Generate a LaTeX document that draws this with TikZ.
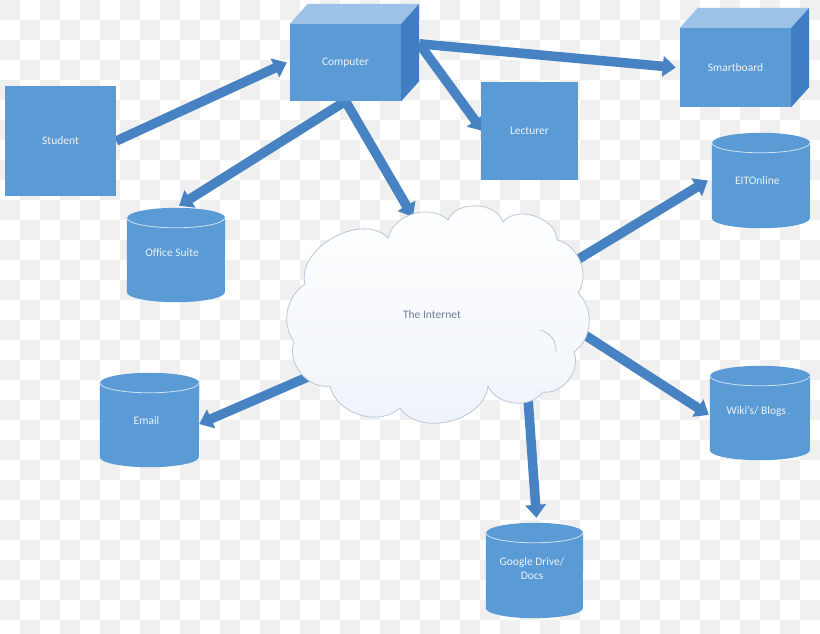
\documentclass[tikz,border=0pt]{standalone}
\usepackage{fontspec}
\setmainfont{Carlito}
\usetikzlibrary{arrows.meta,calc}
\definecolor{boxblue}{HTML}{5B9BD5}
\definecolor{topblue}{HTML}{9CC2E8}
\definecolor{sideblue}{HTML}{3F7EC2}
\definecolor{arrowblue}{HTML}{4783C3}
\definecolor{checkgrey}{HTML}{F0F0F0}
\definecolor{cloudline}{HTML}{B9C9DA}
\definecolor{cloudbottom}{HTML}{EEF3FA}
\definecolor{cloudtext}{HTML}{6B7F98}
\definecolor{labeltext}{HTML}{EAF2FA}
\pgfdeclarelayer{back}
\pgfdeclarelayer{conn}
\pgfsetlayers{back,conn,main}
\newcommand\cylshape[3]{%
  \fill[boxblue] ($(#1.north west)+(0,#3)$) -- ($(#1.south west)+(0,-#3)$)
    arc[start angle=180,end angle=0,x radius=#2,y radius=#3]
    -- ($(#1.north east)+(0,#3)$)
    arc[start angle=360,end angle=180,x radius=#2,y radius=#3] -- cycle;
  \draw[white!70!boxblue, line width=0.8pt] ($(#1.north west)+(0,#3)$)
    arc[start angle=180,end angle=0,x radius=#2,y radius=#3];
}
\begin{document}
\begin{tikzpicture}[x=1pt,y=-1pt,
  lbl/.style={text=labeltext, font=\fontsize{11.5}{14}\selectfont, align=center, inner sep=0pt},
  facebox/.style={rectangle, fill=boxblue, draw=none, inner sep=0pt, text=labeltext, font=\fontsize{11.5}{14}\selectfont},
  cylbox/.style={rectangle, draw=none, inner sep=0pt},
  conn/.style={draw=arrowblue, line width=9.5pt, -{Triangle[width=20pt,length=13pt]}}]
\useasboundingbox (0,0) rectangle (820,633);
\begin{pgfonlayer}{back}
\fill[white] (0,0) rectangle (820,633);
\foreach \i in {0,...,40}{\foreach \j in {0,...,31}{
  \pgfmathtruncatemacro\chk{mod(\i+\j,2)}
  \ifnum\chk=0 \fill[checkgrey] (\i*20,\j*20) rectangle ++(20,20); \fi
}}
\end{pgfonlayer}

% cubes
\node[facebox, minimum width=111, minimum height=77] (computer) at (345.5,62.5) {Computer};
\fill[topblue] (computer.north west) -- ++(18,-20) -- ($(computer.north east)+(18,-20)$) -- (computer.north east) -- cycle;
\fill[sideblue] (computer.north east) -- ++(18,-20) -- ($(computer.south east)+(18,-20)$) -- (computer.south east) -- cycle;
\coordinate (comp-side) at ($(computer.north east)+(18,20)$);

\node[facebox, minimum width=111, minimum height=79] (smart) at (735.5,67.5) {Smartboard};
\fill[topblue] (smart.north west) -- ++(18,-20) -- ($(smart.north east)+(18,-20)$) -- (smart.north east) -- cycle;
\fill[sideblue] (smart.north east) -- ++(18,-20) -- ($(smart.south east)+(18,-20)$) -- (smart.south east) -- cycle;

% boxes
\node[facebox, minimum width=111, minimum height=110] (student) at (60.5,141) {Student};
\node[facebox, minimum width=97, minimum height=98] (lecturer) at (529.5,131) {Lecturer};

% cylinders
\node[cylbox, minimum width=98, minimum height=95] (eit) at (761,180.5) {};
\cylshape{eit}{49}{10}
\node[lbl] (eit-t) at (759,181) {EITOnline\,{\fontsize{6}{6}\selectfont .}};

\node[cylbox, minimum width=98, minimum height=94] (office) at (176,255) {};
\cylshape{office}{49}{10}
\node[lbl] (office-t) at (172,253) {Office Suite};

\node[cylbox, minimum width=99, minimum height=94] (email) at (149.5,420) {};
\cylshape{email}{49.5}{10}
\node[lbl] (email-t) at (146.5,421) {Email};

\node[cylbox, minimum width=100, minimum height=94] (wiki) at (760,413) {};
\cylshape{wiki}{50}{10}
\node[lbl] (wiki-t) at (758,411) {Wiki’s/ Blogs\,{\fontsize{6}{6}\selectfont .}};

\node[cylbox, minimum width=97, minimum height=95] (google) at (534.5,570.5) {};
\cylshape{google}{48.5}{10}
\node[lbl] (google-t) at (532,569) {Google Drive/\\Docs};

% cloud
\path[draw=cloudline, line width=0.8pt, top color=white, bottom color=cloudbottom]
  (305,284) to[bend left=75] (388,238) to[bend left=60] (448,220)
  to[bend left=70] (503,222) to[bend left=70] (557,240)
  to[bend left=55] (578,293) to[bend left=50] (574,352)
  to[bend left=60] (543,392) to[bend left=60] (488,386)
  to[bend left=70] (400,408) to[bend left=60] (330,386)
  to[bend left=60] (294,342) to[bend left=45] (305,284) -- cycle;
\draw[cloudline, line width=0.8pt] (540,330) to[bend left=40] (556,352);
\node[text=cloudtext, font=\fontsize{11.5}{14}\selectfont, inner sep=0pt] (inet) at (432,315) {The Internet};
\coordinate (inet-top) at (413,217);
\coordinate (inet-ne) at (572,263);
\coordinate (inet-e) at (574,328);
\coordinate (inet-s) at (527,384);
\coordinate (inet-w) at (310,376);

% connectors
\begin{pgfonlayer}{conn}
\draw[conn] (student.east) -- ([xshift=-3pt]computer.west);
\draw[conn] (computer.south) -- ([shift={(3pt,2pt)}]office.north);
\draw[conn] (computer.south) -- (inet-top);
\draw[conn] (comp-side) -- ([xshift=2pt]lecturer.west);
\draw[conn] (comp-side) -- ([xshift=-4pt]smart.west);
\draw[conn] (inet-ne) -- ([xshift=-4pt]eit.west);
\draw[conn] (inet-e) -- ([xshift=-1pt,yshift=-2pt]wiki.west);
\draw[conn] (inet-s) -- ([xshift=2pt,yshift=5pt]google.north);
\draw[conn] (inet-w) -- ([yshift=-4pt]email.east);
\end{pgfonlayer}
\end{tikzpicture}
\end{document}
